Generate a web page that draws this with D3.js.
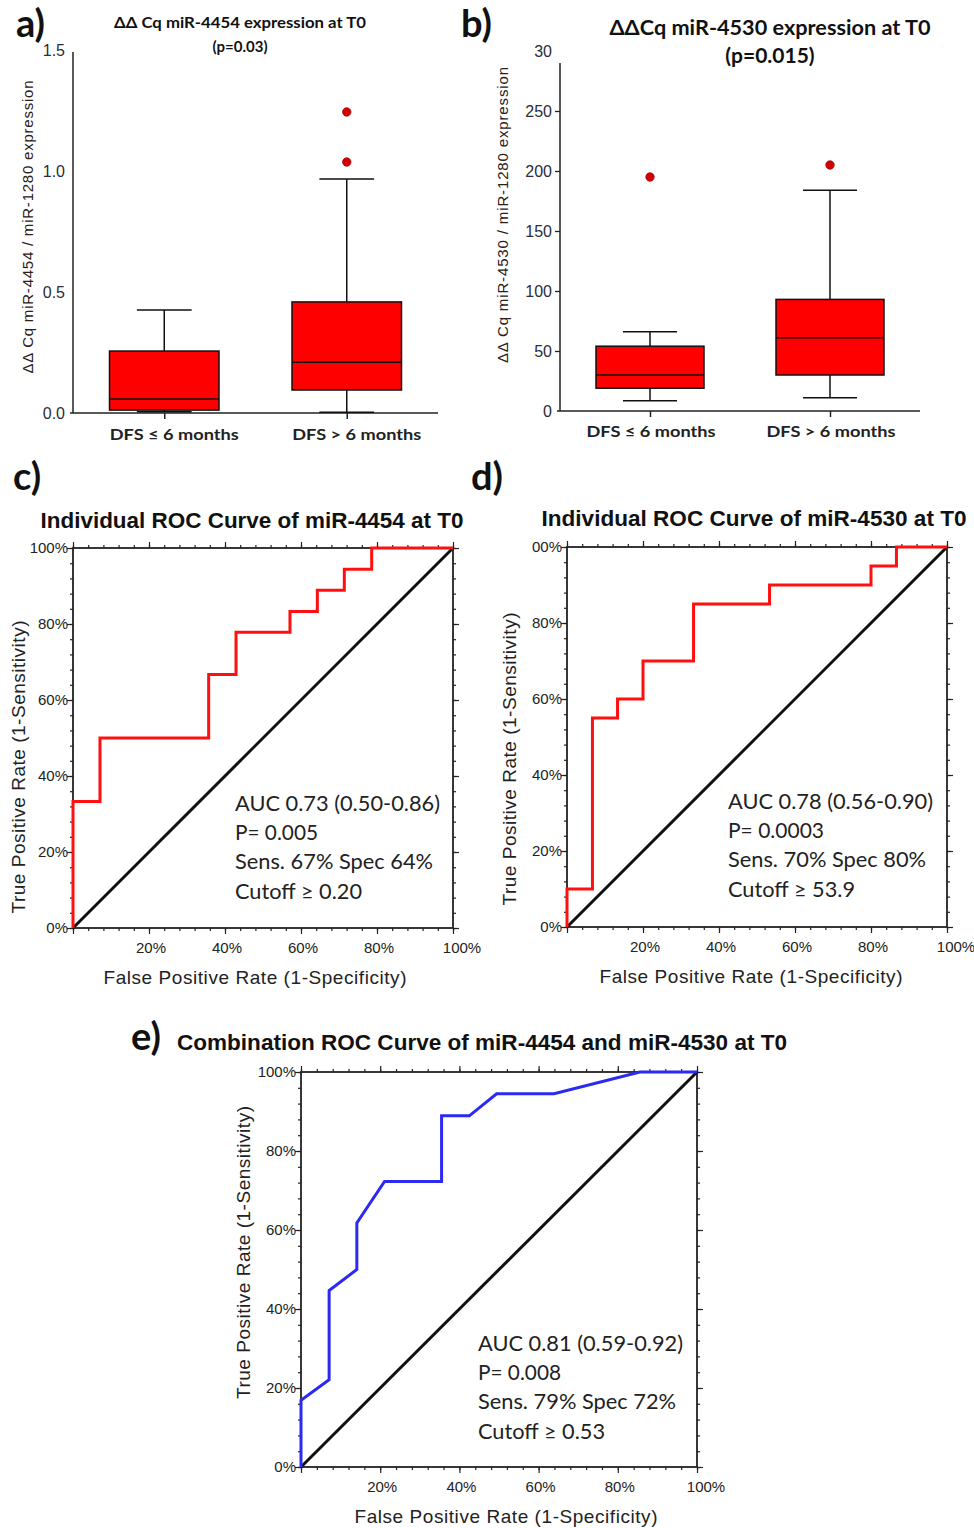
<!DOCTYPE html>
<html><head><meta charset="utf-8">
<script src="https://cdn.jsdelivr.net/npm/d3@7/dist/d3.min.js"></script>
<style>body{margin:0;background:#fff} svg{display:block}</style>
</head><body>
<svg id="fig" width="974" height="1528"></svg>
<script>
// ---------------- data ----------------
const groups = ["DFS ≤ 6 months", "DFS > 6 months"];

// panel a : miR-4454
const a_lowWhisker  = [0.005, 0.003];
const a_q1          = [0.012, 0.095];
const a_median      = [0.058, 0.210];
const a_q3          = [0.256, 0.459];
const a_highWhisker = [0.426, 0.967];
const a_outliers    = [[], [1.037, 1.244]];
const a_ticks       = [0, 0.5, 1.0, 1.5];
const a_tickLabels  = ["0.0", "0.5", "1.0", "1.5"];

// panel b : miR-4530
const b_lowWhisker  = [8.5, 11];
const b_q1          = [19, 30];
const b_median      = [30, 61];
const b_q3          = [54, 93];
const b_highWhisker = [66, 184];
const b_outliers    = [[195], [205]];
const b_ticks       = [0, 50, 100, 150, 200, 250, 300];
const b_tickLabels  = ["0", "50", "100", "150", "200", "250", "30"];

// ROC axes
const pctTicks    = [0, 0.2, 0.4, 0.6, 0.8, 1.0];
const pctYLabels  = ["0%", "20%", "40%", "60%", "80%", "100%"];
const pctYLabelsD = ["0%", "20%", "40%", "60%", "80%", "00%"];
const pctXLabels  = ["", "20%", "40%", "60%", "80%", "100%"];

// panel c : ROC miR-4454 (operating points)
const c_fpr = [0, 0, 0.071, 0.357, 0.429, 0.571, 0.643, 0.714, 0.786, 1];
const c_tpr = [0, 0.333, 0.500, 0.667, 0.778, 0.833, 0.889, 0.944, 1.0, 1];
const c_stats = ["AUC 0.73 (0.50-0.86)", "P= 0.005", "Sens. 67% Spec 64%", "Cutoff ≥ 0.20"];

// panel d : ROC miR-4530
const d_fpr = [0, 0, 0.067, 0.133, 0.200, 0.333, 0.533, 0.800, 0.867, 1];
const d_tpr = [0, 0.10, 0.55, 0.60, 0.70, 0.85, 0.90, 0.95, 1.0, 1];
const d_stats = ["AUC 0.78 (0.56-0.90)", "P= 0.0003", "Sens. 70% Spec 80%", "Cutoff ≥ 53.9"];

// panel e : combination ROC
const e_fpr = [0, 0, 0.071, 0.071, 0.141, 0.141, 0.211, 0.355, 0.355, 0.425, 0.494, 0.639, 0.856, 1];
const e_tpr = [0, 0.169, 0.221, 0.447, 0.500, 0.618, 0.723, 0.723, 0.889, 0.889, 0.945, 0.945, 1.0, 1];
const e_stats = ["AUC 0.81 (0.59-0.92)", "P= 0.008", "Sens. 79% Spec 72%", "Cutoff ≥ 0.53"];

// ---------------- drawing ----------------
const svg = d3.select("#fig");
const TXT = "#222";

function text(g, x, y, s, o = {}) {
  const t = g.append("text").attr("x", x).attr("y", y).text(s)
    .attr("font-family", o.family || "Liberation Sans, Arial, sans-serif")
    .attr("font-size", o.size || 14)
    .attr("font-weight", o.weight || "normal")
    .attr("fill", o.fill || TXT)
    .attr("text-anchor", o.anchor || "start");
  if (o.len) t.attr("textLength", o.len).attr("lengthAdjust", o.adjust || "spacing");
  if (o.rotate) t.attr("transform", `rotate(-90,${x},${y})`);
  if (o.dy) t.attr("dy", o.dy);
  return t;
}

function panelLabel(x, y, s) {
  text(svg, x, y, s, {family: "Lato, sans-serif", size: 38, weight: "bold", fill: "#111"});
}

function boxPanel(o) {
  const g = svg.append("g");
  const y = d3.scaleLinear().domain([0, o.max]).range([o.bottom, o.top]);
  const x = d3.scalePoint().domain(groups).range([o.left, o.right]).padding(0.5);
  const bw = x.step() * 0.6, cap = x.step() * 0.15;

  g.append("line").attr("x1", o.left).attr("x2", o.left).attr("y1", o.bottom).attr("y2", o.axisTop)
    .attr("stroke", "#222").attr("stroke-width", 1.5);
  g.append("line").attr("x1", o.left - 3).attr("x2", o.right).attr("y1", o.bottom).attr("y2", o.bottom)
    .attr("stroke", "#222").attr("stroke-width", 1.5);
  const xa = g.append("g").attr("transform", `translate(0,${o.bottom})`)
    .call(d3.axisBottom(x).tickSize(6).tickFormat(""));
  xa.select(".domain").remove();
  xa.selectAll("line").attr("stroke", "#222").attr("stroke-width", 1.5);
  if (o.yTickSize) {
    const ya = g.append("g").attr("transform", `translate(${o.left},0)`)
      .call(d3.axisLeft(y).tickValues(o.ticks.filter(v => v > 0 && v < o.max)).tickSize(o.yTickSize).tickFormat(""));
    ya.select(".domain").remove();
    ya.selectAll("line").attr("stroke", "#222").attr("stroke-width", 1.3);
  }
  o.ticks.forEach((v, i) => text(g, o.left - 8, y(v), o.tickLabels[i],
    {anchor: "end", size: 16, fill: "#2c2c3a", dy: "0.35em"}));

  groups.forEach((gname, i) => {
    const cx = x(gname);
    g.append("line").attr("x1", cx).attr("x2", cx).attr("y1", y(o.hi[i])).attr("y2", y(o.q3[i]))
      .attr("stroke", "#111").attr("stroke-width", 1.5);
    g.append("line").attr("x1", cx).attr("x2", cx).attr("y1", y(o.lo[i])).attr("y2", y(o.q1[i]))
      .attr("stroke", "#111").attr("stroke-width", 1.5);
    [o.hi[i], o.lo[i]].forEach(v => g.append("line")
      .attr("x1", cx - cap).attr("x2", cx + cap).attr("y1", y(v)).attr("y2", y(v))
      .attr("stroke", "#111").attr("stroke-width", 1.5));
    g.append("rect").attr("x", cx - bw / 2).attr("width", bw)
      .attr("y", y(o.q3[i])).attr("height", y(o.q1[i]) - y(o.q3[i]))
      .attr("fill", "#ff0000").attr("stroke", "#111").attr("stroke-width", 1.5);
    g.append("line").attr("x1", cx - bw / 2).attr("x2", cx + bw / 2)
      .attr("y1", y(o.med[i])).attr("y2", y(o.med[i])).attr("stroke", "#111").attr("stroke-width", 1.5);
    o.out[i].forEach(v => g.append("circle").attr("cx", cx).attr("cy", y(v)).attr("r", 4.2)
      .attr("fill", "#d40000").attr("stroke", "#a00000").attr("stroke-width", 0.8));
    text(g, cx + o.catDx, o.catY, gname, {family: "Lato, sans-serif", size: 16, weight: "bold",
      anchor: "middle", len: 129, adjust: "spacingAndGlyphs", fill: "#222"});
  });
  text(g, o.yTitleX, o.yTitleY, o.yTitle, {size: 15, anchor: "middle", rotate: true,
    len: o.yTitleLen, fill: "#2a2018", dy: "0.35em"});
}

function rocPanel(o) {
  const g = svg.append("g");
  const x = d3.scaleLinear().domain([0, 1]).range([o.left, o.right]);
  const y = d3.scaleLinear().domain([0, 1]).range([o.bottom, o.top]);
  const minor = d3.range(0, 1.0001, 0.04);
  const mk = (axis, scale, tx, ty, vals, size) => {
    const a = g.append("g").attr("transform", `translate(${tx},${ty})`)
      .call(axis(scale).tickValues(vals).tickSize(size).tickFormat(""));
    a.select(".domain").remove();
    a.selectAll("line").attr("stroke", "#222").attr("stroke-width", 1.2);
  };
  mk(d3.axisBottom, x, 0, o.bottom, minor, 3);
  mk(d3.axisBottom, x, 0, o.bottom, pctTicks, 6);
  mk(d3.axisTop, x, 0, o.top, minor, 3);
  mk(d3.axisTop, x, 0, o.top, pctTicks, 6);
  mk(d3.axisLeft, y, o.left, 0, minor, 3);
  mk(d3.axisLeft, y, o.left, 0, pctTicks, 6);
  mk(d3.axisRight, y, o.right, 0, minor, 3);
  mk(d3.axisRight, y, o.right, 0, pctTicks, 6);
  g.append("rect").attr("x", o.left).attr("y", o.top).attr("width", o.right - o.left)
    .attr("height", o.bottom - o.top).attr("fill", "none").attr("stroke", "#222").attr("stroke-width", 1.8);

  pctTicks.forEach((v, i) => {
    text(g, o.left - 5, y(v), o.yLabels[i], {anchor: "end", size: 15, dy: "0.35em"});
    if (pctXLabels[i]) text(g, x(v) + (i === 5 ? 9 : 2), o.bottom + 25, pctXLabels[i], {anchor: "middle", size: 15});
  });

  g.append("path").datum([0, 1])
    .attr("d", d3.line().x(d => x(d)).y(d => y(d)))
    .attr("stroke", "#111").attr("stroke-width", 3).attr("fill", "none");
  const pts = o.fpr.map((f, i) => [f, o.tpr[i]]);
  g.append("path").datum(pts)
    .attr("d", d3.line().x(d => x(d[0])).y(d => y(d[1])).curve(o.curve))
    .attr("stroke", o.color).attr("stroke-width", 3).attr("fill", "none")
    .attr("stroke-linejoin", "miter");

  const statLens = [205, o.pLen, 198, 127];
  o.stats.forEach((s, i) => text(g, o.statX, o.statY + i * 29.3, s,
    {family: "Lato, sans-serif", size: 22, fill: "#222", dy: "0.35em", len: statLens[i], adjust: "spacingAndGlyphs"}));

  text(g, o.titleX, o.titleY, o.title, {size: 22, weight: "bold", anchor: "middle", len: o.titleLen,
    adjust: "spacingAndGlyphs", fill: "#111"});
  text(g, (o.left + o.right) / 2 + o.xTitleDx, o.bottom + 56, "False Positive Rate (1-Specificity)",
    {size: 19, anchor: "middle", len: 303});
  text(g, o.yTitleX, (o.top + o.bottom) / 2 + o.yTitleDy, "True Positive Rate (1-Sensitivity)",
    {size: 19, anchor: "middle", rotate: true, len: 293, dy: "0.35em"});
}

// ---- panel a ----
panelLabel(16, 37, "a)");
text(svg, 240, 28, "ΔΔ Cq miR-4454 expression at T0", {family: "Lato, sans-serif", size: 16, weight: "bold", anchor: "middle", len: 252, adjust: "spacingAndGlyphs", fill: "#111"});
text(svg, 240, 52, "(p=0.03)", {family: "Lato, sans-serif", size: 15, weight: "bold", anchor: "middle", fill: "#111"});
boxPanel({left: 73, right: 438, bottom: 413, top: 50, axisTop: 52, max: 1.5,
  ticks: a_ticks, tickLabels: a_tickLabels, yTickSize: 0,
  lo: a_lowWhisker, q1: a_q1, med: a_median, q3: a_q3, hi: a_highWhisker, out: a_outliers,
  catY: 440, catDx: 10, yTitle: "ΔΔ Cq miR-4454 / miR-1280 expression", yTitleX: 28, yTitleY: 227, yTitleLen: 293});

// ---- panel b ----
panelLabel(461, 37, "b)");
text(svg, 770, 35, "ΔΔCq miR-4530 expression at T0", {family: "Lato, sans-serif", size: 21, weight: "bold", anchor: "middle", len: 321, adjust: "spacingAndGlyphs", fill: "#111"});
text(svg, 770, 63, "(p=0.015)", {family: "Lato, sans-serif", size: 21, weight: "bold", anchor: "middle", fill: "#111"});
boxPanel({left: 560, right: 920, bottom: 411, top: 51, axisTop: 63, max: 300,
  ticks: b_ticks, tickLabels: b_tickLabels, yTickSize: 5,
  lo: b_lowWhisker, q1: b_q1, med: b_median, q3: b_q3, hi: b_highWhisker, out: b_outliers,
  catY: 437, catDx: 1, yTitle: "ΔΔ Cq miR-4530 / miR-1280 expression", yTitleX: 503, yTitleY: 215, yTitleLen: 296});

// ---- panel c ----
panelLabel(13, 490, "c)");
rocPanel({left: 73, right: 453, top: 548, bottom: 928, fpr: c_fpr, tpr: c_tpr, curve: d3.curveStepAfter,
  color: "#ff1010", yLabels: pctYLabels, stats: c_stats, statX: 235, statY: 803, pLen: 83,
  title: "Individual ROC Curve of miR-4454 at T0", titleX: 252, titleY: 528, titleLen: 423,
  xTitleDx: -8, yTitleX: 18, yTitleDy: 29});

// ---- panel d ----
panelLabel(471, 490, "d)");
rocPanel({left: 567, right: 947, top: 547, bottom: 927, fpr: d_fpr, tpr: d_tpr, curve: d3.curveStepAfter,
  color: "#ff1010", yLabels: pctYLabelsD, stats: d_stats, statX: 728, statY: 801, pLen: 96,
  title: "Individual ROC Curve of miR-4530 at T0", titleX: 754, titleY: 526, titleLen: 425,
  xTitleDx: -6, yTitleX: 509, yTitleDy: 22});

// ---- panel e ----
panelLabel(131, 1050, "e)");
rocPanel({left: 301, right: 697, top: 1072, bottom: 1467, fpr: e_fpr, tpr: e_tpr, curve: d3.curveLinear,
  color: "#2a2af0", yLabels: pctYLabels, stats: e_stats, statX: 478, statY: 1343, pLen: 83,
  title: "Combination ROC Curve of miR-4454 and miR-4530 at T0", titleX: 482, titleY: 1050, titleLen: 610,
  xTitleDx: 7, yTitleX: 243, yTitleDy: -17});
</script>
</body></html>
